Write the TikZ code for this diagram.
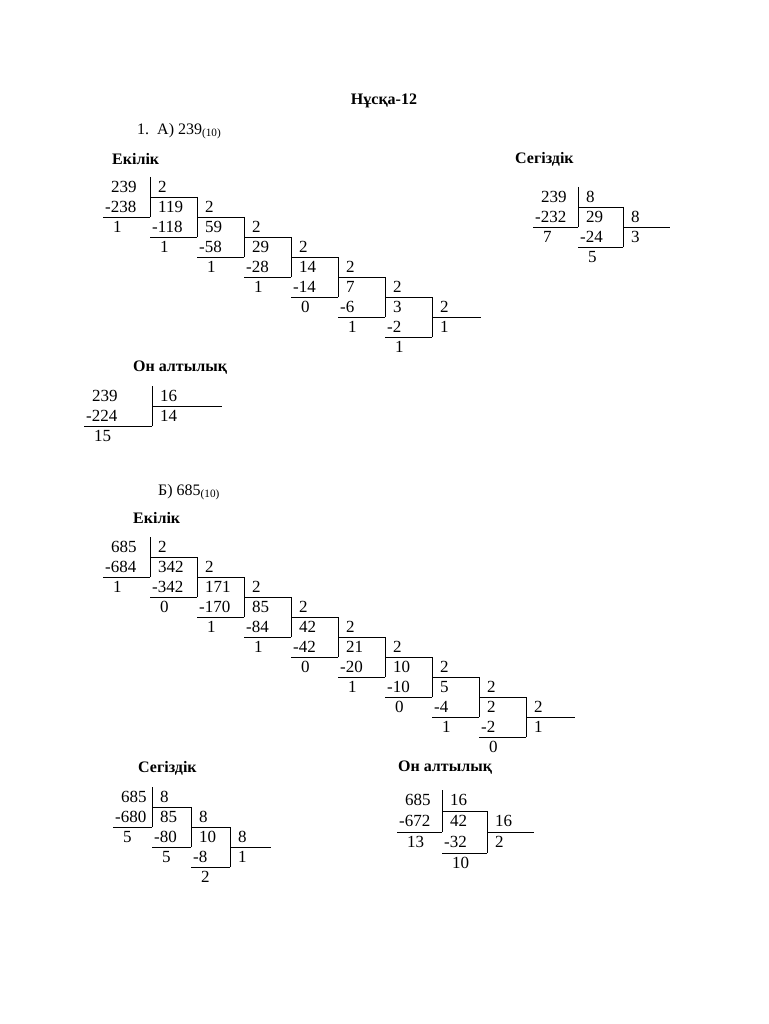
\documentclass[tikz,border=0pt]{standalone}
\usepackage{fontspec}
\setmainfont{Liberation Serif}
\usetikzlibrary{positioning}
\tikzset{num/.style={anchor=west, inner sep=0pt, font=\fontsize{17}{19}\selectfont},
         head/.style={anchor=west, inner sep=0pt, font=\fontsize{16}{19}\selectfont\bfseries}}
% #1 name, #2 x0, #3 y0, #4 dx, #5 dy, #6 divisor, #7 steps dividend/sub/rem, #8 last quotient, #9 steps
\newcommand{\ladder}[9]{%
  \foreach \dd/\ss/\rr [count=\k from 0] in {#7} {
    \pgfmathsetmacro\xa{#2+\k*#4}
    \pgfmathsetmacro\ya{#3+\k*#5}
    \draw (\xa,\ya) -- ++(0,2*#5);
    \draw (\xa,\ya+#5) -- ++(#4,0);
    \draw (\xa,\ya+2*#5) -- ++(-#4,0);
    \node[num] (#1d\k) at (\xa-#4+8,\ya+10) {\dd};
    \node[num] (#1v\k) at (\xa+8,\ya+10) {#6};
    \node[num] (#1s\k) at (\xa-#4+2,\ya+#5+10) {-\ss};
    \node[num] (#1r\k) at (\xa-#4+10,\ya+2*#5+10) {\rr};
  }
  \draw (#2+#9*#4-#4,#3+#9*#5) -- ++(#4+2,0);
  \node[num] (#1q) at (#2+#9*#4-#4+8,#3+#9*#5+10) {#8};
}
\begin{document}
\begin{tikzpicture}[x=1pt,y=-1pt]
\useasboundingbox[fill=white] (0,0) rectangle (768,1024);
\node[head, anchor=center] (title) at (384,101) {Нұсқа-12};
\node[num, font=\fontsize{16}{19}\selectfont] (taskA) at (137,131) {1.\ \ А) 239\textsubscript{(10)}};
\node[head] (binA) at (112,159) {Екілік};
\node[head] (octA) at (515,159) {Сегіздік};
\node[head] (hexA) at (133,368) {Он алтылық};
\node[num, font=\fontsize{16}{19}\selectfont] (taskB) at (158,492) {Б) 685\textsubscript{(10)}};
\node[head] (binB) at (133,518) {Екілік};
\node[head] (octB) at (138,768) {Сегіздік};
\node[head] (hexB) at (398,768) {Он алтылық};
% 239
\ladder{a}{150}{177}{47}{20}{2}{239/238/1,119/118/1,59/58/1,29/28/1,14/14/0,7/6/1,3/2/1}{1}{7}
\ladder{b}{578}{187}{45}{20}{8}{239/232/7,29/24/5}{3}{2}
\ladder{c}{152}{386}{68}{20}{16}{239/224/15}{14}{1}
% 685
\ladder{d}{150}{537}{47}{20}{2}{685/684/1,342/342/0,171/170/1,85/84/1,42/42/0,21/20/1,10/10/0,5/4/1,2/2/0}{1}{9}
\ladder{e}{152}{787}{39}{20}{8}{685/680/5,85/80/5,10/8/2}{1}{3}
\ladder{f}{442}{790}{45}{21}{16}{685/672/13,42/32/10}{2}{2}
\end{tikzpicture}
\end{document}
